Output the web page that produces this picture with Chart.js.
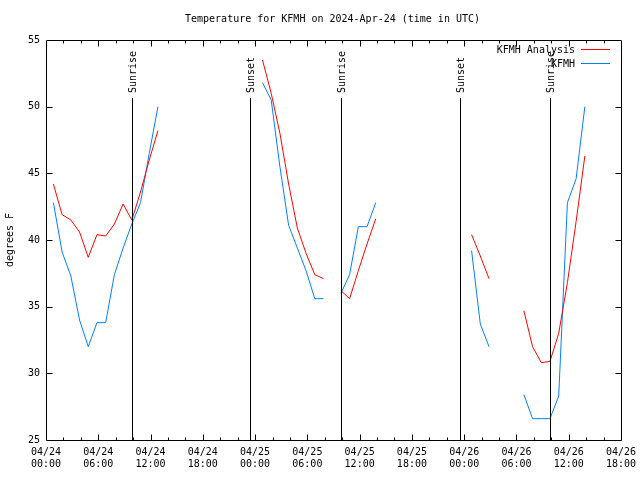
<!DOCTYPE html>
<html>
<head>
<meta charset="utf-8">
<script src="https://cdn.jsdelivr.net/npm/chart.js@4/dist/chart.umd.min.js"></script>
<style>
html,body{margin:0;padding:0;background:#fff;}
canvas{display:block;}
</style>
</head>
<body>
<canvas id="c" width="640" height="480"></canvas>
<script>
// ---- data ----
const chartTitle = 'Temperature for KFMH on 2024-Apr-24 (time in UTC)';
const yTitle = 'degrees F';
// observation hours since 2024-04-24 00:00 UTC (obs taken at :51 past the hour)
const obsHour = [0,1,2,3,4,5,6,7,8,9,10,11,12,
                 24,25,26,27,28,29,30,31,
                 33,34,35,36,37,
                 48,49,50,
                 54,55,56,57,58,59,60,61];
const obsMinute = 51;
const analysisTemp = [44.2,41.9,41.5,40.6,38.7,40.4,40.3,41.2,42.7,41.5,43.6,46.0,48.2,
                      53.5,51.0,48.0,44.2,40.9,39.0,37.4,37.1,
                      36.2,35.6,37.7,39.7,41.6,
                      40.4,38.8,37.1,
                      34.7,32.0,30.8,30.9,33.0,36.8,41.4,46.3];
const obsTemp = [42.8,39.1,37.3,34.0,32.0,33.8,33.8,37.4,39.4,41.2,42.8,46.5,50.0,
                 51.8,50.5,45.5,41.1,39.4,37.7,35.6,35.6,
                 36.0,37.4,41.0,41.0,42.8,
                 39.2,33.7,32.0,
                 28.4,26.6,26.6,26.6,28.3,42.8,44.6,50.0];
const seriesNames = ['KFMH Analysis','KFMH'];
const seriesColors = ['#ff0000','#0080ff'];
const xTickLabels = [['04/24','00:00'],['04/24','06:00'],['04/24','12:00'],['04/24','18:00'],
                     ['04/25','00:00'],['04/25','06:00'],['04/25','12:00'],['04/25','18:00'],
                     ['04/26','00:00'],['04/26','06:00'],['04/26','12:00'],['04/26','18:00']];
const sunEvents = ['Sunrise','Sunset','Sunrise','Sunset','Sunrise'];
const sunHours = [9.87, 23.42, 33.86, 47.5, 57.85];

// build point lists, breaking lines where hours are missing
function buildPoints(vals){
  const pts = [];
  for (let i = 0; i < obsHour.length; i++) {
    if (i > 0 && obsHour[i] - obsHour[i-1] > 1) pts.push({x: obsHour[i-1] + 1 + obsMinute/60, y: null});
    pts.push({x: obsHour[i] + obsMinute/60, y: vals[i]});
  }
  return pts;
}

const FONT = {family: '"DejaVu Sans Mono", monospace', size: 10};

const gnuplotDecor = {
  id: 'gnuplotDecor',
  afterDatasetsDraw(chart) {
    const {ctx, chartArea: a, scales: {x, y}} = chart;
    ctx.save();
    ctx.strokeStyle = '#000';
    ctx.fillStyle = '#000';
    ctx.lineWidth = 1;
    // sunrise / sunset lines
    ctx.font = '10px "DejaVu Sans Mono", monospace';
    sunHours.forEach((h, i) => {
      const px = Math.round(x.getPixelForValue(h)) + 0.5;
      ctx.beginPath();
      ctx.moveTo(px, 98);
      ctx.lineTo(px, a.bottom);
      ctx.stroke();
      ctx.save();
      ctx.translate(px + 1, 93);
      ctx.rotate(-Math.PI/2);
      ctx.textAlign = 'left';
      ctx.textBaseline = 'middle';
      ctx.fillText(sunEvents[i], 0, 0);
      ctx.restore();
    });
    // border
    const L = Math.round(a.left) + 0.5, R = Math.round(a.right) + 0.5;
    const T = Math.round(a.top) + 0.5, B = Math.round(a.bottom) + 0.5;
    ctx.beginPath();
    ctx.rect(L, T, R - L, B - T);
    ctx.stroke();
    // x ticks (top and bottom), major every 6 h, minor every 2 h
    ctx.beginPath();
    for (let h = 2; h < 66; h += 2) {
      const px = Math.round(x.getPixelForValue(h)) + 0.5;
      const len = (h % 6 === 0) ? 6 : 3;
      ctx.moveTo(px, B); ctx.lineTo(px, B - len);
      ctx.moveTo(px, T); ctx.lineTo(px, T + len);
    }
    // y ticks (left and right)
    for (let v = 30; v < 55; v += 5) {
      const py = Math.round(y.getPixelForValue(v)) + 0.5;
      ctx.moveTo(L, py); ctx.lineTo(L + 6, py);
      ctx.moveTo(R, py); ctx.lineTo(R - 6, py);
    }
    ctx.stroke();
    // title
    ctx.fillStyle = '#000';
    ctx.textAlign = 'center';
    ctx.textBaseline = 'middle';
    ctx.fillText(chartTitle, (a.left + a.right) / 2 - 1, 19);
    // legend
    const rows = [50, 64];
    for (let i = 0; i < seriesNames.length; i++) {
      ctx.fillStyle = '#000';
      ctx.textAlign = 'right';
      ctx.fillText(seriesNames[i], 575, rows[i]);
      ctx.fillStyle = seriesColors[i];
      ctx.fillRect(581, rows[i] - 1, 29, 1);
    }
    ctx.restore();
  }
};

new Chart(document.getElementById('c'), {
  type: 'line',
  data: {
    datasets: [
      {label: seriesNames[0], data: buildPoints(analysisTemp), borderColor: seriesColors[0], backgroundColor: seriesColors[0],
       borderWidth: 1, pointRadius: 0, tension: 0, spanGaps: false},
      {label: seriesNames[1], data: buildPoints(obsTemp), borderColor: seriesColors[1], backgroundColor: seriesColors[1],
       borderWidth: 1, pointRadius: 0, tension: 0, spanGaps: false}
    ]
  },
  options: {
    responsive: false,
    animation: false,
    layout: {padding: {top: 40, right: 19, left: 0, bottom: 0}},
    plugins: {legend: {display: false}, title: {display: false}, tooltip: {enabled: false}},
    scales: {
      x: {
        type: 'linear', min: 0, max: 66,
        grid: {display: false, drawTicks: false},
        border: {display: false},
        ticks: {stepSize: 6, autoSkip: false, maxRotation: 0, minRotation: 0, padding: 6,
                color: '#000', font: FONT,
                callback: (v) => xTickLabels[Math.round(v / 6)]},
        afterFit(s) { s.height = 40; s.paddingLeft = 0; s.paddingRight = 0; }
      },
      y: {
        min: 25, max: 55,
        grid: {display: false, drawTicks: false},
        border: {display: false},
        ticks: {stepSize: 5, padding: 6, color: '#000', font: FONT},
        title: {display: true, text: yTitle, color: '#000', font: FONT, padding: {top: 4, bottom: 0}},
        afterFit(s) { s.width = 46; s.paddingTop = 0; s.paddingBottom = 0; }
      }
    }
  },
  plugins: [gnuplotDecor]
});
</script>
</body>
</html>
